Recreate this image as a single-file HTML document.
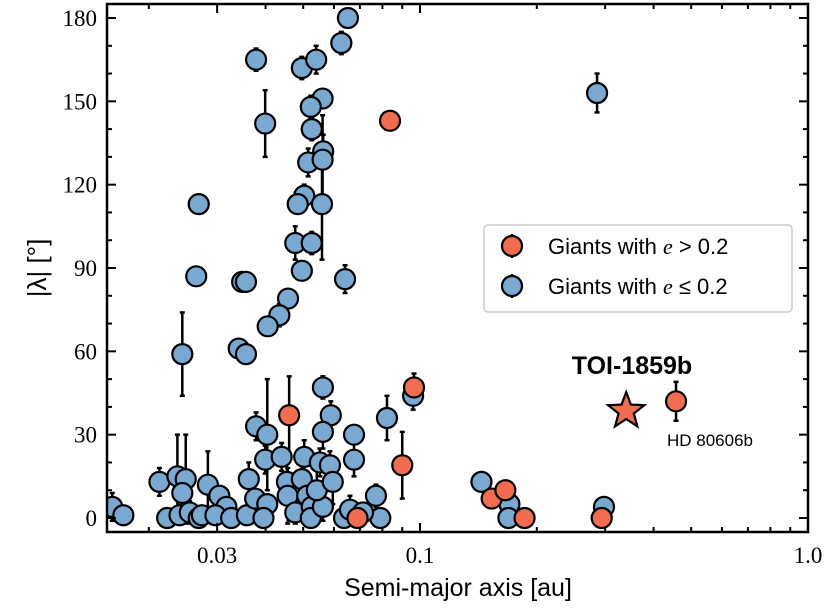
<!DOCTYPE html>
<html><head><meta charset="utf-8"><style>
body{margin:0;background:#fff}
svg{display:block}
.tk{font-family:"Liberation Serif",serif;font-size:23px}
.lb{font-family:"Liberation Sans",sans-serif}
</style></head><body>
<svg id="chart" width="831" height="609" xmlns="http://www.w3.org/2000/svg"></svg>
<script>
// Blue: giants with e <= 0.2
const blueA=[0.0652,0.0627,0.0378,0.0496,0.054,0.0399,0.0561,0.0523,0.0526,0.0563,0.0515,0.0561,0.0503,0.0484,0.0559,0.0269,0.0477,0.0526,0.0496,0.0641,0.0265,0.0348,0.0356,0.0457,0.0434,0.0405,0.0341,0.0356,0.0244,0.286,
0.0161,0.0172,0.0213,0.0223,0.0237,0.0249,0.0244,0.024,0.0255,0.0269,0.0274,0.0284,0.0304,0.0317,0.0297,0.0326,0.0358,0.0362,0.0378,0.0404,0.0399,0.0376,0.0404,0.0395,0.044,0.0454,0.0456,0.0477,0.0496,0.0503,0.0512,0.0526,0.0523,0.0552,0.0586,0.0562,0.0542,0.0596,0.0562,0.0589,0.0562,0.0676,0.0676,0.0637,0.066,0.077,0.079,0.0822,0.0713,0.096,0.144,0.17,0.169,0.298];
const blueL=[180,171,165,162,165,142,151,148,140,132,128,129,116,113,113,113,99,99,89,86,87,85,85,79,73,69,61,59,59,153,
4,1,13,0,15,14,9,1,2,0,1,12,8,4,1,0,1,14,33,30,21,7,5,0,22,13,8,2,14,22,8,4,0,20,19,4,10,13,47,37,31,30,21,0,3,8,0,36,2,44,13,5,0,4];
const blueE=[2,4,4,4,5,12,2,4,4,6,5,16,4,3,20,0,6,4,0,5,0,0,0,3,4,3,0,0,15,7,
5,0,5,3,15,16,4,0,4,0,0,12,2,6,0,0,0,6,5,20,5,3,2,0,5,8,10,4,7,6,8,4,2,5,5,5,8,8,4,5,6,3,6,0,5,4,0,8,2,5,2,5,3,3];
// Orange: giants with e > 0.2
const orA=[0.0837,0.0965,0.046,0.09,0.457,0.153,0.166,0.186,0.294,0.069];
const orL=[143,47,37,19,42,7,10,0,0,0];
const orE=[0,5,14,12,7,3,3,0,0,2];
// TOI-1859b
const starA=[0.34], starL=[38.5];
const yTicks=[0,30,60,90,120,150,180];
const xTicks=[0.03,0.1,1.0], xTickLabels=["0.03","0.1","1.0"];

const NS="http://www.w3.org/2000/svg";
const svg=document.getElementById('chart');
const L=107,R=808,T=4,B=532;
const xs=a=>420+388*(Math.log10(a)+1);
const ys=v=>518-v*(500/180);
function mk(tag,attrs,parent){const e=document.createElementNS(NS,tag);for(const k in attrs)e.setAttribute(k,attrs[k]);(parent||svg).appendChild(e);return e;}
const clipDef=mk('defs',{});const cp=mk('clipPath',{id:'cp'},clipDef);mk('rect',{x:L,y:T,width:R-L,height:B-T},cp);
const plot=mk('g',{'clip-path':'url(#cp)'});



function errbar(a,l,e){if(!e)return;const x=xs(a);
const g=mk('g',{stroke:'#000','stroke-width':2.5},plot);


mk('line',{x1:x,x2:x,y1:ys(l-e),y2:ys(l+e)},g);
mk('line',{x1:x-2.5,x2:x+2.5,y1:ys(l-e),y2:ys(l-e)},g);
mk('line',{x1:x-2.5,x2:x+2.5,y1:ys(l+e),y2:ys(l+e)},g);}
function dot(a,l,fill,name){const c=mk('circle',{cx:xs(a),cy:ys(l),r:10,fill:fill,stroke:'#000','stroke-width':2.2},plot);

}
blueA.forEach((a,i)=>errbar(a,blueL[i],blueE[i]));
orA.forEach((a,i)=>errbar(a,orL[i],orE[i]));
blueA.forEach((a,i)=>dot(a,blueL[i],'#79a9d1','point-low-e'));
orA.forEach((a,i)=>dot(a,orL[i],'#f26c4f','point-high-e'));
function starPts(cx,cy,ro,ri){let p=[];for(let i=0;i<10;i++){const r=i%2?ri:ro;const an=-Math.PI/2+i*Math.PI/5;p.push((cx+r*Math.cos(an)).toFixed(1)+','+(cy+r*Math.sin(an)).toFixed(1));}return p.join(' ');}
const st=mk('polygon',{points:starPts(xs(starA[0]),ys(starL[0]),19,8),fill:'#f26c4f',stroke:'#000','stroke-width':2.2},plot);



const fr=mk('rect',{x:L,y:T,width:R-L,height:B-T,fill:'none',stroke:'#000','stroke-width':2.5});


for(let v=0;v<=180;v+=10){const y=ys(v);const len=v%30===0?9:5;
mk('line',{x1:L,x2:L+len,y1:y,y2:y,stroke:'#000','stroke-width':2});
mk('line',{x1:R,x2:R-len,y1:y,y2:y,stroke:'#000','stroke-width':2});}
yTicks.forEach(v=>{const t=mk('text',{x:L-10,y:ys(v)+8,'text-anchor':'end',class:'tk'});t.textContent=v;

});
const minors=[];for(let d=-2;d<0;d++)for(let m=1;m<10;m++)minors.push(m*Math.pow(10,d));
minors.forEach(a=>{const x=xs(a);if(x<L||x>R)return;const maj=xTicks.some(t=>Math.abs(t-a)<1e-9)||Math.abs(a-0.1)<1e-9;const len=maj?9:5;
mk('line',{x1:x,x2:x,y1:B,y2:B-len,stroke:'#000','stroke-width':2});
mk('line',{x1:x,x2:x,y1:T,y2:T+len,stroke:'#000','stroke-width':2});});
xTicks.forEach((a,i)=>{const t=mk('text',{x:xs(a),y:563,'text-anchor':'middle',class:'tk'});t.textContent=xTickLabels[i];

});
</script>
<svg width="831" height="609" style="position:absolute;left:0;top:0" xmlns="http://www.w3.org/2000/svg">
<text class="lb" x="458" y="596" text-anchor="middle" font-size="25">Semi-major axis [au]</text>
<text class="lb" transform="translate(46,268) rotate(-90)" text-anchor="middle" font-size="26">|λ| [°]</text>
<text class="lb" x="632" y="374" text-anchor="middle" font-size="25" font-weight="bold">TOI-1859b</text>
<text class="lb" x="710" y="446" text-anchor="middle" font-size="17">HD 80606b</text>
<g>
<rect x="484" y="225" width="308" height="87" rx="4" fill="#fff" stroke="#ccc" stroke-width="1.5"/>
<line x1="512" x2="512" y1="234" y2="258" stroke="#000" stroke-width="2.5"/>
<circle cx="512" cy="246" r="10" fill="#f26c4f" stroke="#000" stroke-width="2.2"/>
<text class="lb" x="548" y="254" font-size="22">Giants with <tspan font-family="Liberation Serif" font-style="italic">e</tspan> &gt; 0.2</text>
<line x1="512" x2="512" y1="274" y2="298" stroke="#000" stroke-width="2.5"/>
<circle cx="512" cy="286" r="10" fill="#79a9d1" stroke="#000" stroke-width="2.2"/>
<text class="lb" x="548" y="294" font-size="22">Giants with <tspan font-family="Liberation Serif" font-style="italic">e</tspan> ≤ 0.2</text>
</g>
</svg>
</body></html>
